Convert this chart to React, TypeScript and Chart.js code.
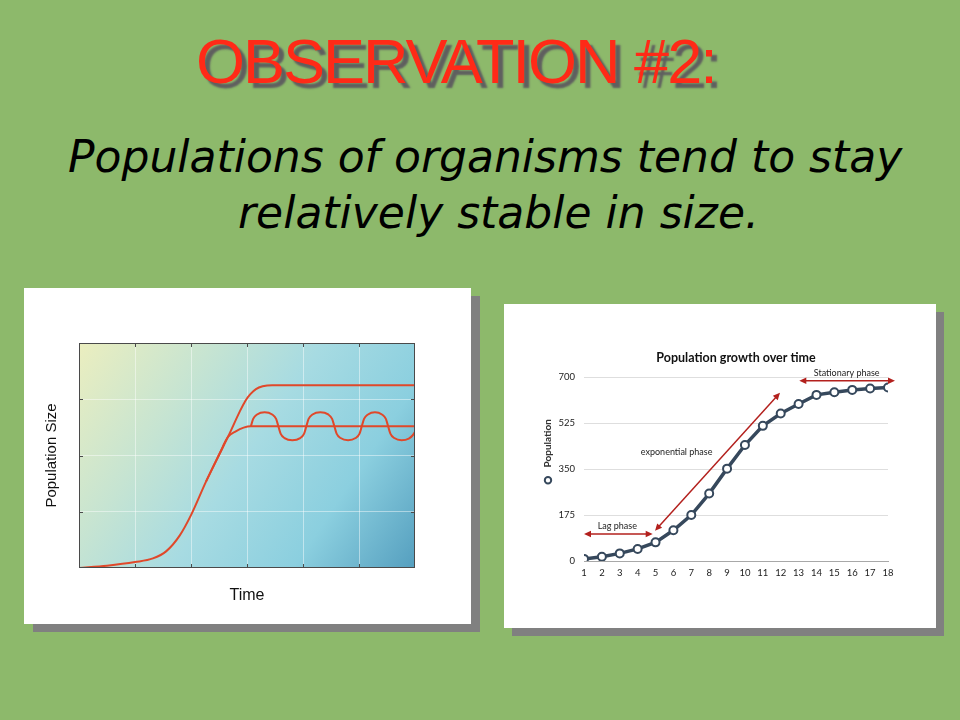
import React, { useEffect, useRef } from "react";
import { Chart, registerables } from "chart.js";

Chart.register(...registerables);

// ---------- Left chart (schematic population curves) ----------
const growthX = [0, 0.5, 1.0, 1.32, 1.56, 1.8, 2.0, 2.27, 2.51, 2.66];
const growthY = [0, 0.04, 0.105, 0.17, 0.3, 0.58, 0.94, 1.54, 2.03, 2.33];
const upperX = [2.87, 2.97, 3.06, 3.16, 3.28, 3.45, 6];
const upperY = [2.78, 2.97, 3.09, 3.18, 3.23, 3.25, 3.25];
const lowerX = [2.8, 2.94, 3.07, 6];
const lowerY = [2.43, 2.495, 2.52, 2.52];
const waveX = [
  3.07, 3.11, 3.18, 3.315, 3.45, 3.52, 3.56, 3.6, 3.67, 3.81, 3.95, 4.02, 4.06,
  4.1, 4.17, 4.31, 4.45, 4.52, 4.56, 4.6, 4.67, 4.805, 4.94, 5.01, 5.05, 5.09,
  5.16, 5.285, 5.41, 5.48, 5.52, 5.56, 5.63, 5.76, 5.89, 5.96, 6.0,
];
const waveY = [
  2.52, 2.65, 2.73, 2.77, 2.73, 2.65, 2.52, 2.39, 2.31, 2.27, 2.31, 2.39, 2.52,
  2.65, 2.73, 2.77, 2.73, 2.65, 2.52, 2.39, 2.31, 2.27, 2.31, 2.39, 2.52, 2.65,
  2.73, 2.77, 2.73, 2.65, 2.52, 2.39, 2.31, 2.27, 2.3, 2.36, 2.42,
];
const leftAxisX = "Time";
const leftAxisY = "Population Size";

// ---------- Right chart (population growth over time) ----------
const days = [1, 2, 3, 4, 5, 6, 7, 8, 9, 10, 11, 12, 13, 14, 15, 16, 17, 18];
const population = [8, 16, 29, 46, 71, 117, 175, 257, 352, 442, 515, 562, 598, 633, 643, 652, 657, 661];
const popTickStep = 175;
const popMax = 700;
const rightTitle = "Population growth over time";
const seriesName = "Population";
const phaseLabels = ["Lag phase", "exponential phase", "Stationary phase"];
const phaseLabelX = [2.86, 6.18, 15.69];
const phaseLabelY = [133, 414, 715];
const arrowStartX = [1.0, 4.97, 13.04];
const arrowStartY = [103, 115, 687];
const arrowEndX = [4.84, 11.96, 18.39];
const arrowEndY = [103, 641, 687];

const zip = (xs: number[], ys: number[]) => xs.map((x, i) => ({ x, y: ys[i] }));

const LINE_RED = "#e0482a";
const FRAME = "#4a4a4a";
const SANS = "Lato, 'DejaVu Sans', sans-serif";

const gradientBg = {
  id: "gradientBg",
  beforeDraw(chart: any) {
    const { ctx, chartArea: a } = chart;
    if (!a) return;
    const g = ctx.createLinearGradient(a.left, a.top, a.right, a.bottom);
    g.addColorStop(0, "#ebeebf");
    g.addColorStop(0.28, "#c6e4d2");
    g.addColorStop(0.5, "#a7dbe2");
    g.addColorStop(0.75, "#8bcfdf");
    g.addColorStop(1, "#559fbf");
    ctx.save();
    ctx.fillStyle = g;
    ctx.fillRect(a.left, a.top, a.right - a.left, a.bottom - a.top);
    ctx.restore();
  },
};

const frameTicks = {
  id: "frameTicks",
  afterDraw(chart: any) {
    const { ctx, chartArea: a, scales } = chart;
    ctx.save();
    ctx.strokeStyle = FRAME;
    ctx.lineWidth = 1;
    ctx.strokeRect(a.left + 0.5, a.top + 0.5, a.right - a.left - 1, a.bottom - a.top - 1);
    const L = 4;
    ctx.beginPath();
    for (let v = 1; v < 6; v++) {
      const px = Math.round(scales.x.getPixelForValue(v)) + 0.5;
      ctx.moveTo(px, a.top);
      ctx.lineTo(px, a.top + L);
      ctx.moveTo(px, a.bottom);
      ctx.lineTo(px, a.bottom - L);
    }
    for (let v = 1; v < 4; v++) {
      const py = Math.round(scales.y.getPixelForValue(v)) + 0.5;
      ctx.moveTo(a.left, py);
      ctx.lineTo(a.left + L, py);
      ctx.moveTo(a.right, py);
      ctx.lineTo(a.right - L, py);
    }
    ctx.stroke();
    ctx.restore();
  },
};

function drawArrow(ctx: CanvasRenderingContext2D, x1: number, y1: number, x2: number, y2: number) {
  const ang = Math.atan2(y2 - y1, x2 - x1);
  const len = 7;
  const hw = 3.3;
  ctx.beginPath();
  ctx.moveTo(x1 + Math.cos(ang) * 4, y1 + Math.sin(ang) * 4);
  ctx.lineTo(x2 - Math.cos(ang) * 4, y2 - Math.sin(ang) * 4);
  ctx.stroke();
  const head = (hx: number, hy: number, a: number) => {
    ctx.beginPath();
    ctx.moveTo(hx, hy);
    ctx.lineTo(hx - Math.cos(a) * len - Math.sin(a) * hw, hy - Math.sin(a) * len + Math.cos(a) * hw);
    ctx.lineTo(hx - Math.cos(a) * len + Math.sin(a) * hw, hy - Math.sin(a) * len - Math.cos(a) * hw);
    ctx.closePath();
    ctx.fill();
  };
  head(x2, y2, ang);
  head(x1, y1, ang + Math.PI);
}

const phaseNotes = {
  id: "phaseNotes",
  afterDraw(chart: any) {
    const { ctx, chartArea: a, scales } = chart;
    const xs = scales.x;
    const ys = scales.y;
    ctx.save();
    ctx.strokeStyle = "#b3201d";
    ctx.fillStyle = "#b3201d";
    ctx.lineWidth = 1.5;
    for (let i = 0; i < arrowStartX.length; i++) {
      drawArrow(
        ctx,
        xs.getPixelForValue(arrowStartX[i]),
        ys.getPixelForValue(arrowStartY[i]),
        xs.getPixelForValue(arrowEndX[i]),
        ys.getPixelForValue(arrowEndY[i])
      );
    }
    ctx.fillStyle = "#222";
    ctx.font = "9px " + SANS;
    ctx.textAlign = "center";
    ctx.textBaseline = "middle";
    for (let i = 0; i < phaseLabels.length; i++) {
      ctx.fillText(phaseLabels[i], xs.getPixelForValue(phaseLabelX[i]), ys.getPixelForValue(phaseLabelY[i]));
    }
    // vertical series legend
    const lx = a.left - 36;
    ctx.save();
    ctx.translate(lx, a.top + 66);
    ctx.rotate(-Math.PI / 2);
    ctx.font = "bold 10px " + SANS;
    ctx.fillStyle = "#333";
    ctx.fillText(seriesName, 0, 0);
    ctx.restore();
    ctx.beginPath();
    ctx.arc(lx, a.top + 103, 3.2, 0, Math.PI * 2);
    ctx.fillStyle = "#fff";
    ctx.fill();
    ctx.lineWidth = 2;
    ctx.strokeStyle = "#36485c";
    ctx.stroke();
    ctx.restore();
  },
};

function LeftChart() {
  const ref = useRef<HTMLCanvasElement | null>(null);
  useEffect(() => {
    if (!ref.current) return;
    const gridColor = "rgba(255,255,255,0.45)";
    const growth = zip(growthX, growthY);
    const chart = new Chart(ref.current, {
      type: "line",
      data: {
        datasets: [
          {
            data: [...growth, ...zip(upperX, upperY)],
            borderColor: LINE_RED,
            borderWidth: 2,
            pointRadius: 0,
            cubicInterpolationMode: "monotone",
          },
          {
            data: [...growth.slice(7), ...zip(lowerX, lowerY)],
            borderColor: LINE_RED,
            borderWidth: 2,
            pointRadius: 0,
            cubicInterpolationMode: "monotone",
          },
          {
            data: zip(waveX, waveY),
            borderColor: LINE_RED,
            borderWidth: 2,
            pointRadius: 0,
            cubicInterpolationMode: "monotone",
          },
        ],
      },
      options: {
        animation: false,
        responsive: false,
        events: [],
        layout: { padding: { top: 55, right: 56, left: 0, bottom: 0 } },
        plugins: { legend: { display: false }, tooltip: { enabled: false } },
        scales: {
          x: {
            type: "linear",
            min: 0,
            max: 6,
            ticks: { display: false, stepSize: 1 },
            grid: { color: gridColor, drawTicks: false },
            border: { display: false },
            title: {
              display: true,
              text: leftAxisX,
              color: "#111",
              font: { family: "'Liberation Sans', Arial, sans-serif", size: 16 },
              padding: { top: 16.4, bottom: 19 },
            },
            afterFit: (s: any) => {
              s.height = 56;
            },
          },
          y: {
            type: "linear",
            min: 0,
            max: 4,
            ticks: { display: false, stepSize: 1 },
            grid: { color: gridColor, drawTicks: false },
            border: { display: false },
            title: {
              display: true,
              text: leftAxisY,
              color: "#111",
              font: { family: "'Liberation Sans', Arial, sans-serif", size: 15 },
              padding: { top: 18.7, bottom: 0 },
            },
            afterFit: (s: any) => {
              s.width = 55;
            },
          },
        },
      } as any,
      plugins: [gradientBg, frameTicks],
    });
    return () => chart.destroy();
  }, []);
  return <canvas ref={ref} width={447} height={336} style={{ width: 447, height: 336, display: "block" }} />;
}

function RightChart() {
  const ref = useRef<HTMLCanvasElement | null>(null);
  useEffect(() => {
    if (!ref.current) return;
    const tickFont = { family: SANS, size: 9.5 };
    const chart = new Chart(ref.current, {
      type: "line",
      data: {
        datasets: [
          {
            label: seriesName,
            data: zip(days, population),
            borderColor: "#36485c",
            borderWidth: 3.5,
            pointRadius: 4,
            pointBorderWidth: 2,
            pointBackgroundColor: "#ffffff",
            pointBorderColor: "#36485c",
            tension: 0,
          },
        ],
      },
      options: {
        animation: false,
        responsive: false,
        events: [],
        layout: { padding: { top: 0, right: 48, left: 0, bottom: 0 } },
        plugins: {
          legend: { display: false },
          tooltip: { enabled: false },
          title: {
            display: true,
            fullSize: false,
            text: rightTitle,
            color: "#111",
            font: { family: SANS, size: 12.5, weight: "bold" },
            padding: { top: 46, bottom: 12.3 },
          },
        },
        scales: {
          x: {
            type: "linear",
            min: days[0],
            max: days[days.length - 1],
            ticks: { stepSize: 1, color: "#222", font: tickFont, padding: 6 },
            grid: { display: false, drawTicks: false },
            border: { display: true, color: "#a8a8a8", width: 1 },
            afterFit: (s: any) => {
              s.height = 67;
            },
          },
          y: {
            type: "linear",
            min: 0,
            max: popMax,
            ticks: { stepSize: popTickStep, color: "#222", font: tickFont, padding: 9 },
            grid: { color: "#dedede", drawTicks: false },
            border: { display: false },
            afterFit: (s: any) => {
              s.width = 80;
            },
          },
        },
      } as any,
      plugins: [phaseNotes],
    });
    return () => chart.destroy();
  }, []);
  return <canvas ref={ref} width={432} height={324} style={{ width: 432, height: 324, display: "block" }} />;
}

const subtitleStyle: React.CSSProperties = {
  position: "absolute",
  fontFamily: "'DejaVu Sans', sans-serif",
  fontStyle: "italic",
  fontSize: 44,
  lineHeight: "56px",
  color: "#000",
  whiteSpace: "nowrap",
};

export default function App() {
  return (
    <div
      style={{
        position: "absolute",
        left: 0,
        top: 0,
        width: 960,
        height: 720,
        background: "#8db96b",
        overflow: "hidden",
      }}
    >
      <div
        style={{
          position: "absolute",
          left: 196,
          top: 29.5,
          fontFamily: "'Liberation Sans', Arial, sans-serif",
          fontSize: 63,
          lineHeight: "63px",
          letterSpacing: "-2px",
          color: "#ff2a17",
          whiteSpace: "nowrap",
          textShadow: "5px 5px 2px #5f5f5f",
        }}
      >
        OBSERVATION #2:
      </div>
      <div style={{ ...subtitleStyle, left: 68, top: 129 }}>Populations of organisms tend to stay</div>
      <div style={{ ...subtitleStyle, left: 238, top: 185 }}>relatively stable in size.</div>
      <div
        style={{
          position: "absolute",
          left: 24,
          top: 288,
          width: 447,
          height: 336,
          background: "#fff",
          boxShadow: "9px 8px 0 #808080",
        }}
      >
        <LeftChart />
      </div>
      <div
        style={{
          position: "absolute",
          left: 504,
          top: 304,
          width: 432,
          height: 324,
          background: "#fff",
          boxShadow: "8px 8px 0 #808080",
        }}
      >
        <RightChart />
      </div>
    </div>
  );
}
